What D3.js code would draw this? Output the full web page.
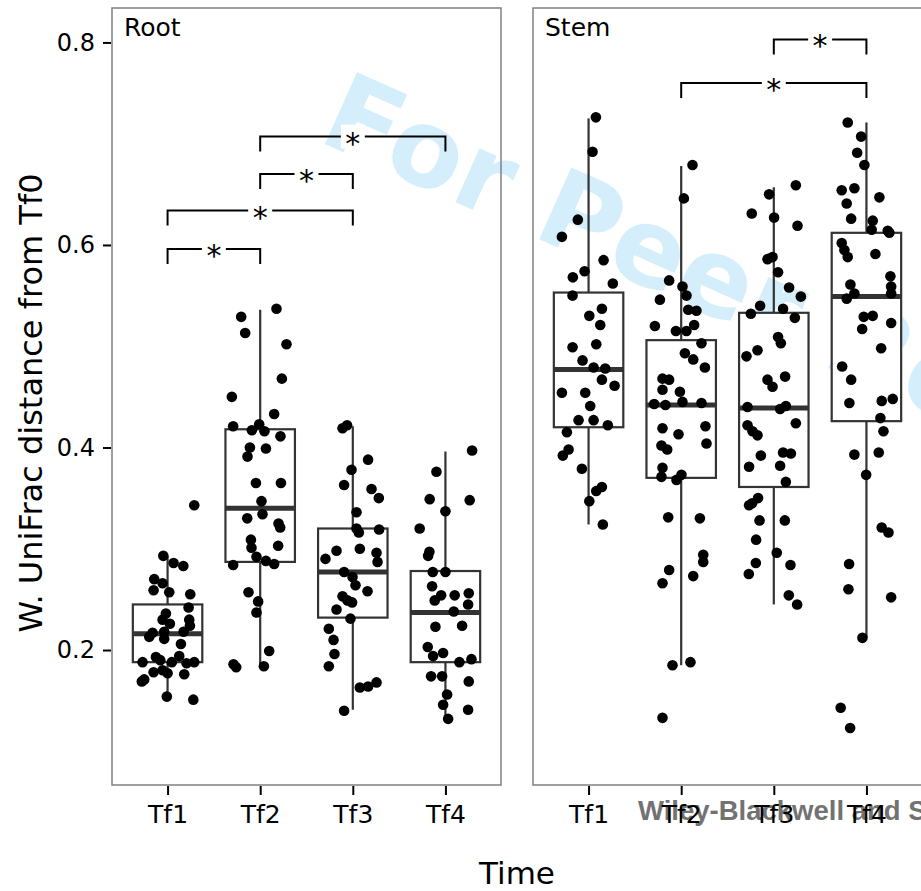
<!DOCTYPE html>
<html>
<head>
<meta charset="utf-8">
<script src="https://cdn.jsdelivr.net/npm/d3@7"></script>
<style>
  body { margin: 0; background: #fff; }
  svg text { font-family: "DejaVu Sans", sans-serif; }
</style>
</head>
<body>
<svg id="chart" width="921" height="891"></svg>
<script>
const panels = ["Root", "Stem"];
const times = ["Tf1", "Tf2", "Tf3", "Tf4"];
const yTicks = [0.2, 0.4, 0.6, 0.8];

// box stats per time: [lower whisker, q1, median, q3, upper whisker]
const rootBoxes = [
  [0.151, 0.188, 0.216, 0.245, 0.293],
  [0.183, 0.287, 0.340, 0.418, 0.536],
  [0.141, 0.232, 0.277, 0.320, 0.421],
  [0.132, 0.188, 0.237, 0.278, 0.396]
];
const stemBoxes = [
  [0.324, 0.420, 0.477, 0.553, 0.725],
  [0.185, 0.370, 0.442, 0.506, 0.678],
  [0.245, 0.361, 0.439, 0.533, 0.657],
  [0.212, 0.426, 0.549, 0.612, 0.721]
];

// jittered samples: [horizontal jitter in category steps, distance]
const rootTf1 = [[-0.046,0.293],[0.065,0.286],[0.17,0.283],[-0.144,0.270],[-0.054,0.266],[-0.151,0.259],[0.018,0.257],[0.245,0.255],[0.227,0.242],[-0.018,0.236],[-0.054,0.230],[0.025,0.226],[0.234,0.230],[0.241,0.224],[-0.162,0.217],[-0.198,0.213],[-0.036,0.218],[-0.036,0.211],[0.173,0.218],[0.144,0.206],[0.126,0.194],[0.046,0.188],[-0.126,0.193],[-0.079,0.190],[-0.27,0.188],[0.205,0.187],[0.288,0.188],[-0.151,0.178],[-0.054,0.180],[0,0.177],[0.18,0.176],[-0.252,0.171],[-0.278,0.169],[-0.008,0.154],[0.278,0.151],[0.288,0.343]];
const rootTf2 = [[0.176,0.537],[-0.205,0.529],[-0.162,0.513],[0.284,0.502],[0.234,0.468],[-0.306,0.450],[0.151,0.433],[-0.292,0.421],[-0.09,0.417],[-0.011,0.423],[0.046,0.416],[0.219,0.411],[-0.111,0.400],[-0.137,0.391],[0.062,0.399],[-0.046,0.365],[0.224,0.365],[0.014,0.347],[0.025,0.334],[-0.14,0.330],[0.198,0.325],[0.216,0.321],[-0.1,0.309],[-0.094,0.301],[0.194,0.303],[-0.04,0.292],[0.062,0.288],[0.151,0.285],[-0.292,0.284],[-0.126,0.257],[-0.022,0.248],[-0.04,0.237],[0.097,0.199],[-0.288,0.186],[-0.259,0.183],[0.04,0.184]];
const rootTf3 = [[-0.111,0.419],[-0.062,0.422],[0.165,0.388],[-0.014,0.378],[-0.094,0.363],[0.202,0.359],[0.281,0.350],[0.04,0.336],[0.04,0.320],[0.065,0.316],[0.284,0.319],[-0.176,0.298],[-0.295,0.290],[0.076,0.300],[0.256,0.296],[0.267,0.287],[-0.094,0.277],[-0.003,0.272],[0.029,0.264],[0.159,0.258],[-0.111,0.253],[-0.057,0.249],[-0.008,0.247],[-0.176,0.240],[-0.025,0.231],[-0.259,0.221],[-0.208,0.210],[-0.198,0.196],[-0.259,0.184],[0.076,0.163],[0.165,0.164],[0.256,0.168],[-0.094,0.140]];
const rootTf4 = [[0.288,0.397],[-0.097,0.376],[-0.17,0.349],[0.262,0.348],[0,0.337],[-0.278,0.320],[-0.173,0.297],[-0.187,0.293],[-0.137,0.277],[0,0.277],[-0.144,0.263],[-0.046,0.254],[-0.116,0.249],[0.1,0.254],[0.252,0.256],[0.245,0.245],[0.09,0.238],[-0.108,0.223],[0.18,0.224],[-0.191,0.203],[-0.133,0.194],[-0.025,0.197],[0.151,0.188],[0.281,0.191],[-0.155,0.174],[-0.036,0.174],[0.252,0.169],[0.018,0.156],[-0.025,0.146],[0.245,0.141],[0.029,0.132]];
const stemTf1 = [[0.079,0.726],[0.043,0.692],[-0.116,0.625],[-0.288,0.608],[0.162,0.585],[-0.043,0.574],[-0.17,0.568],[0.262,0.562],[-0.173,0.550],[0.144,0.537],[0.008,0.530],[0.126,0.521],[0.083,0.502],[-0.173,0.499],[-0.065,0.486],[0.054,0.479],[0.18,0.478],[0.144,0.467],[0.281,0.461],[-0.288,0.454],[-0.036,0.454],[0.018,0.441],[-0.108,0.427],[0.054,0.427],[0.208,0.422],[-0.234,0.415],[-0.216,0.398],[-0.278,0.392],[-0.072,0.379],[0.083,0.357],[0.144,0.361],[0.008,0.347],[0.154,0.324]];
const stemTf2 = [[0.122,0.679],[0.029,0.646],[-0.13,0.565],[0.014,0.559],[0.057,0.550],[-0.23,0.546],[0.076,0.536],[0.165,0.535],[-0.284,0.520],[0.14,0.521],[-0.057,0.515],[0.057,0.515],[0.219,0.503],[0.04,0.493],[0.13,0.487],[0.256,0.479],[-0.202,0.468],[-0.13,0.467],[-0.202,0.457],[-0.014,0.455],[0.014,0.445],[-0.292,0.443],[-0.17,0.442],[0.219,0.444],[-0.202,0.419],[-0.029,0.413],[0.262,0.421],[0.273,0.404],[-0.213,0.402],[-0.151,0.398],[-0.202,0.380],[-0.213,0.371],[-0.051,0.368],[0.003,0.373],[-0.14,0.331],[0.202,0.330],[0.238,0.294],[0.238,0.287],[-0.13,0.279],[0.13,0.273],[-0.202,0.266],[-0.094,0.185],[0.1,0.188],[-0.202,0.133]];
const stemTf3 = [[0.238,0.659],[-0.051,0.650],[-0.238,0.631],[0.003,0.627],[0.256,0.619],[-0.068,0.586],[-0.014,0.588],[0.046,0.573],[0.165,0.558],[0.292,0.549],[-0.148,0.540],[-0.248,0.532],[0.1,0.537],[0.227,0.528],[0.046,0.509],[0.076,0.503],[-0.176,0.496],[-0.295,0.490],[-0.068,0.467],[-0.014,0.460],[0.122,0.470],[-0.284,0.440],[0.068,0.438],[0.13,0.441],[-0.284,0.422],[-0.23,0.416],[-0.176,0.412],[0.238,0.424],[-0.14,0.392],[0.1,0.395],[0.184,0.394],[-0.267,0.381],[0.068,0.382],[0.13,0.366],[-0.17,0.350],[-0.267,0.343],[-0.234,0.345],[-0.154,0.328],[0.119,0.328],[-0.191,0.309],[0.032,0.296],[-0.194,0.286],[0.18,0.284],[-0.27,0.275],[0.162,0.254],[0.252,0.245]];
const stemTf4 = [[-0.202,0.721],[-0.057,0.707],[-0.1,0.691],[-0.022,0.679],[-0.267,0.654],[-0.13,0.656],[0.14,0.647],[-0.213,0.641],[-0.165,0.626],[0.068,0.624],[0.057,0.615],[0.23,0.614],[0.248,0.612],[-0.267,0.602],[-0.238,0.595],[-0.202,0.588],[0.097,0.591],[0.259,0.569],[-0.173,0.561],[-0.13,0.552],[-0.213,0.547],[0.267,0.559],[0.267,0.552],[-0.029,0.529],[0.068,0.530],[-0.046,0.517],[0.267,0.523],[0.159,0.498],[-0.262,0.480],[-0.165,0.467],[-0.184,0.444],[0.165,0.446],[0.284,0.448],[0.151,0.429],[0.184,0.416],[-0.13,0.393],[0.133,0.395],[-0.003,0.373],[0.165,0.321],[0.238,0.316],[-0.187,0.285],[-0.194,0.260],[0.267,0.252],[-0.043,0.212],[-0.278,0.143],[-0.176,0.123]];

// significance brackets: [from, to, height]
const rootSig = [["Tf1","Tf2",0.596],["Tf1","Tf3",0.634],["Tf2","Tf3",0.670],["Tf2","Tf4",0.707]];
const stemSig = [["Tf3","Tf4",0.803],["Tf2","Tf4",0.760]];

const panelData = {
  Root: { boxes: rootBoxes, points: [rootTf1, rootTf2, rootTf3, rootTf4], sig: rootSig },
  Stem: { boxes: stemBoxes, points: [stemTf1, stemTf2, stemTf3, stemTf4], sig: stemSig }
};

const svg = d3.select("#chart");
const panelLeft = { Root: 112, Stem: 533 };
const panelW = 389, panelTop = 8, panelBottom = 785;

const y = d3.scaleLinear().domain([0.0667, 0.834]).range([panelBottom, panelTop]);

// watermark sits underneath everything
svg.append("text")
  .attr("transform", "translate(316,140) rotate(24)")
  .attr("font-weight", "bold")
  .attr("font-size", 108)
  .attr("fill", "#d4eefb")
  .style("font-family", "'DejaVu Sans', sans-serif")
  .text("For Peer Review");

svg.append("text")
  .attr("x", 638).attr("y", 820)
  .attr("font-weight", "bold")
  .attr("font-size", 27.5)
  .attr("fill", "#727272")
  .style("font-family", "'Liberation Sans', sans-serif")
  .text("Wiley-Blackwell and Society for Applied Microbiology");

panels.forEach(name => {
  const x0 = panelLeft[name];
  const d = panelData[name];
  const x = d3.scalePoint().domain(times).range([x0, x0 + panelW]).padding(0.6);
  const step = x.step();
  const bw = step * 0.75;
  const g = svg.append("g");

  g.append("rect")
    .attr("x", x0).attr("y", panelTop)
    .attr("width", panelW).attr("height", panelBottom - panelTop)
    .attr("fill", "none").attr("stroke", "#808080").attr("stroke-width", 1.5);

  g.append("text")
    .attr("x", x0 + 12).attr("y", 36)
    .attr("font-size", 25)
    .text(name);

  // boxplots
  times.forEach((t, i) => {
    const b = d.boxes[i];
    const cx = x(t);
    g.append("line").attr("x1", cx).attr("x2", cx).attr("y1", y(b[4])).attr("y2", y(b[3]))
      .attr("stroke", "#333").attr("stroke-width", 2.2);
    g.append("line").attr("x1", cx).attr("x2", cx).attr("y1", y(b[1])).attr("y2", y(b[0]))
      .attr("stroke", "#333").attr("stroke-width", 2.2);
    g.append("rect")
      .attr("x", cx - bw / 2).attr("y", y(b[3]))
      .attr("width", bw).attr("height", y(b[1]) - y(b[3]))
      .attr("fill", "#fff").attr("stroke", "#333").attr("stroke-width", 2.2);
    g.append("line").attr("x1", cx - bw / 2).attr("x2", cx + bw / 2).attr("y1", y(b[2])).attr("y2", y(b[2]))
      .attr("stroke", "#333").attr("stroke-width", 5);
  });

  // jittered points
  times.forEach((t, i) => {
    g.selectAll(null).data(d.points[i]).enter().append("circle")
      .attr("cx", p => x(t) + p[0] * step)
      .attr("cy", p => y(p[1]))
      .attr("r", 5.3)
      .attr("fill", "#000");
  });

  // significance brackets
  d.sig.forEach(s => {
    const xa = x(s[0]), xb = x(s[1]), yy = y(s[2]);
    g.append("path")
      .attr("d", `M${xa},${yy + 15}V${yy}H${xb}V${yy + 15}`)
      .attr("fill", "none").attr("stroke", "#000").attr("stroke-width", 2);
    const mid = (xa + xb) / 2;
    g.append("rect").attr("x", mid - 12).attr("y", yy - 12).attr("width", 24).attr("height", 24).attr("fill", "#fff");
    g.append("text")
      .attr("x", mid).attr("y", yy + 17)
      .attr("text-anchor", "middle")
      .attr("font-size", 30)
      .text("*");
  });

  // x axis
  const xAxis = g.append("g")
    .attr("transform", "translate(0," + (panelBottom + 1) + ")")
    .call(d3.axisBottom(x).tickSize(9).tickPadding(10));
  xAxis.select(".domain").remove();
  xAxis.selectAll("line").attr("stroke", "#000").attr("stroke-width", 2);
  xAxis.selectAll("text").attr("font-size", 25).attr("fill", "#000")
    .style("font-family", "'DejaVu Sans', sans-serif");
});

// y axis on the left panel only
const yAxis = svg.append("g")
  .attr("transform", "translate(" + (panelLeft.Root - 1) + ",0)")
  .call(d3.axisLeft(y).tickValues(yTicks).tickFormat(d3.format(".1f")).tickSize(8).tickPadding(8));
yAxis.select(".domain").remove();
yAxis.selectAll("line").attr("stroke", "#000").attr("stroke-width", 2);
yAxis.selectAll("text").attr("font-size", 24).attr("fill", "#000")
  .style("font-family", "'DejaVu Sans', sans-serif");

svg.append("text")
  .attr("transform", "translate(42,403) rotate(-90)")
  .attr("text-anchor", "middle")
  .attr("font-size", 32)
  .text("W. UniFrac distance from Tf0");

svg.append("text")
  .attr("x", 517).attr("y", 884)
  .attr("text-anchor", "middle")
  .attr("font-size", 31)
  .text("Time");
</script>
</body>
</html>
